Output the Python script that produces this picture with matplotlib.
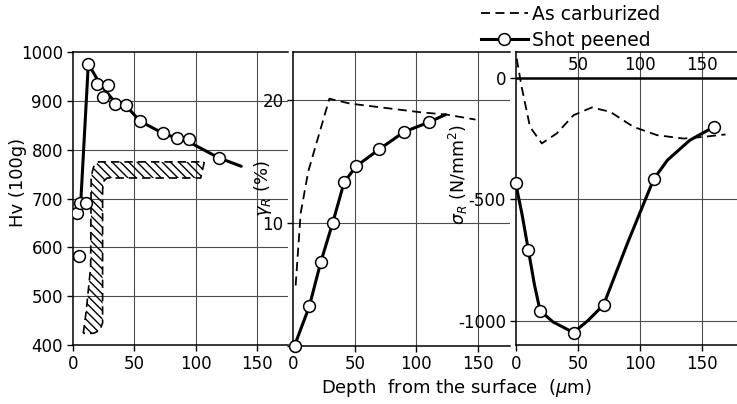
import numpy as np
import matplotlib.pyplot as plt
from matplotlib.lines import Line2D

plt.rcParams['font.family'] = 'DejaVu Sans'
plt.rcParams['hatch.linewidth'] = 1.0

# --- panel 1 : hardness Hv (100g), shot peened
hv_x = [3.2, 5.4, 5.9, 10.8, 12.7, 20, 24.8, 28.4, 34.6, 43, 54.9, 73, 84.9, 94.6, 118.7]
hv_y = [670, 583, 690, 690, 976, 935, 908, 932, 894, 891, 858, 834, 823, 822, 783]
hv_line_x = [6.5, 12.7, 22, 35, 45, 55, 73, 85, 95, 119, 137]
hv_line_y = [690, 976, 935, 895, 885, 858, 834, 823, 815, 783, 766]
# hardness band, as carburized
band_x = [8.6, 11, 14.6, 15, 17, 21, 107, 104, 28, 25, 24.3, 24.3, 22, 17]
band_y = [424, 470, 560, 745, 765, 775, 775, 742, 742, 735, 717, 445, 430, 424]

# --- panel 2 : retained austenite (%)
ga_x = [1, 13, 22.3, 32, 41.3, 51, 70, 90, 110.5]
ga_y = [0, 3.2, 6.8, 10.0, 13.3, 14.6, 16.0, 17.4, 18.2]
ga_line_x = ga_x + [123.5]
ga_line_y = ga_y + [18.8]
ga_carb_x = [1.9, 6, 12.2, 29.3, 46.2, 70.6, 103, 125, 148]
ga_carb_y = [4.9, 10.8, 14.2, 20.1, 19.7, 19.4, 19.0, 18.8, 18.4]

# --- panel 3 : residual stress (N/mm2)
rs_x = [0, 10.2, 19.6, 46.5, 70.7, 111, 159.4]
rs_y = [-435, -710, -959, -1049, -935, -418, -203]
rs_line_x = [0, 5, 10.2, 15, 19.6, 30, 46.5, 58, 70.7, 90, 111, 122, 140, 159.4]
rs_line_y = [-435, -560, -710, -850, -959, -1005, -1049, -1000, -935, -680, -418, -340, -258, -203]
rs_carb_x = [0.8, 4.8, 11.5, 21, 33, 46.5, 61.3, 76, 94.8, 113.7, 135, 151, 168.8]
rs_carb_y = [78, -39, -203, -271, -230, -155, -123, -141, -203, -237, -251, -244, -234]

x_ticks = [0, 50, 100, 150]
top_ticks = [50, 100, 150]

W, H = 737, 404
fig = plt.figure(figsize=(W / 100, H / 100), dpi=100)

def box(l, r, t, b):
    return [l / W, 1 - b / H, (r - l) / W, (b - t) / H]

ax1 = fig.add_axes(box(72.7, 288, 52, 345))
ax2 = fig.add_axes(box(293.3, 510, 52, 345.7))
ax3 = fig.add_axes(box(515.7, 737, 52, 345))

solid = dict(color='k', lw=2.2, solid_capstyle='round')
dash = dict(color='k', lw=1.3, linestyle=(0, (5, 3)))
mk = dict(ls='none', marker='o', ms=8.5, mfc='white', mec='k', mew=1.1, zorder=5)
grid = dict(color='0.3', lw=0.8, zorder=0)

for ax in (ax1, ax2, ax3):
    ax.spines['right'].set_visible(False)
    for s in ax.spines.values():
        s.set_linewidth(1.1)
    ax.set_xticks(x_ticks)
    ax.tick_params(labelsize=12, length=4, width=1, pad=3)
    ax.patch.set_alpha(0)

# panel 1
ax1.set_xlim(0, 175)
ax1.set_ylim(400, 1000)
ax1.set_yticks(range(400, 1001, 100))
for v in range(500, 1000, 100):
    ax1.axhline(v, **grid)
for v in top_ticks:
    ax1.axvline(v, **grid)
ax1.fill(band_x, band_y, facecolor='none', edgecolor='k', hatch='\\' * 4,
         linestyle=(0, (5, 3)), linewidth=1.2)
ax1.plot(hv_line_x, hv_line_y, **solid)
ax1.plot(hv_x, hv_y, **mk)

# panel 2
ax2.set_xlim(0, 176)
ax2.set_ylim(0, 23.9)
ax2.set_yticks([0, 10, 20])
ax2.set_yticklabels(['', '10', '20'])
for v in [10, 20]:
    ax2.axhline(v, **grid)
for v in top_ticks:
    ax2.axvline(v, **grid)
ax2.plot(ga_carb_x, ga_carb_y, **dash)
ax2.plot(ga_line_x, ga_line_y, **solid)
ax2.plot(ga_x, ga_y, clip_on=False, **mk)

# panel 3
ax3.set_xlim(0, 178)
ax3.set_ylim(-1100, 105)
ax3.set_yticks([0, -500, -1000])
ax3.set_yticklabels(['0', '-500', '-1000'])
for v in [-500, -1000]:
    ax3.axhline(v, **grid)
for v in top_ticks:
    ax3.axvline(v, **grid)
ax3.axhline(0, color='k', lw=1.8)
for v in top_ticks:
    ax3.text(v, 52, str(v), ha='center', va='center', fontsize=12)
ax3.plot(rs_carb_x, rs_carb_y, **dash)
ax3.plot(rs_line_x, rs_line_y, **solid)
ax3.plot(rs_x, rs_y, clip_on=False, **mk)

# axis titles
fig.text(18 / W, 1 - 182 / H, 'Hv (100g)', rotation=90, ha='center', va='center', fontsize=13)
fig.text(263 / W, 1 - 188 / H, r'$\gamma_R$ (%)', rotation=90, ha='center', va='center', fontsize=13)
fig.text(458 / W, 1 - 175 / H, r'$\sigma_R$ (N/mm$^2$)', rotation=90, ha='center', va='center', fontsize=12.5)
fig.text(456 / W, 1 - 388 / H, 'Depth  from the surface  ($\\mu$m)', ha='center', va='center', fontsize=13)

handles = [Line2D([], [], **dash),
           Line2D([], [], color='k', lw=2.2, marker='o', ms=8.5, mfc='white', mec='k', mew=1.1)]
fig.legend(handles, ['As carburized', 'Shot peened'], loc='upper left',
           bbox_to_anchor=(481 / W, 1 - 5 / H), frameon=False, fontsize=13.5,
           handlelength=2.5, handletextpad=0.2, labelspacing=0.35,
           borderpad=0, borderaxespad=0)

fig.savefig('out.png', dpi=100)
